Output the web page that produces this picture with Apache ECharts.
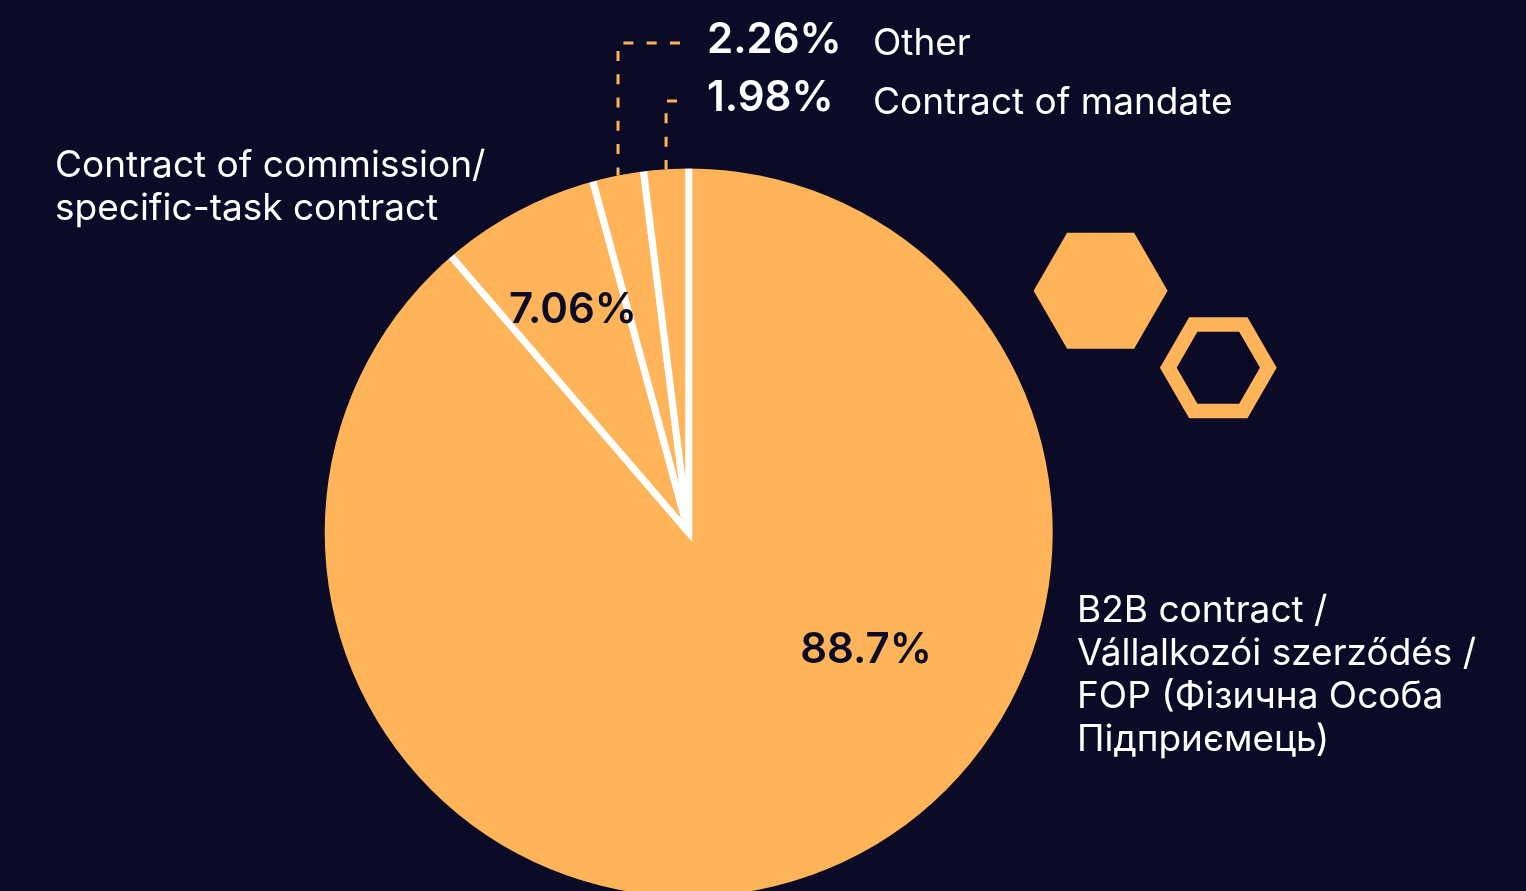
<!DOCTYPE html>
<html>
<head>
<meta charset="utf-8">
<script src="https://cdn.jsdelivr.net/npm/echarts@6/dist/echarts.min.js"></script>
<style>
html,body{margin:0;padding:0;background:#0b0b28;}
#chart{width:1526px;height:891px;}
</style>
</head>
<body>
<div id="chart"></div>
<script>
// ---- data ----
const categories = [
  'B2B contract /\nVállalkozói szerződés /\nFOP (Фізична Особа\nПідприємець)',
  'Contract of commission/\nspecific-task contract',
  'Other',
  'Contract of mandate'
];
const values = [88.7, 7.06, 2.26, 1.98];
const percentLabels = ['88.7%', '7.06%', '2.26%', '1.98%'];

// ---- style ----
const BG = '#0b0b28';
const ORANGE = '#ffb459';
const PCT_FONT = 'Inter, "Noto Sans", sans-serif';
const NAME_FONT = 'Inter, "Noto Sans", sans-serif';
const CX = 688.7, CY = 532.5, R = 364;

const chart = echarts.init(document.getElementById('chart'), null, {renderer: 'canvas'});

// label placements (layout, not data)
const pctPos = [
  {x: 866, y: 650, align: 'center', color: BG},
  {x: 573, y: 310, align: 'center', color: BG},
  {x: 707, y: 40, align: 'left', color: '#ffffff'},
  {x: 707, y: 98, align: 'left', color: '#ffffff'}
];
const namePos = [
  {x: 1077, y: 675, align: 'left'},
  {x: 55, y: 187, align: 'left'},
  {x: 873, y: 44, align: 'left'},
  {x: 873, y: 103, align: 'left'}
];
const lineEnds = [null, null, {y: 43, x: 680}, {y: 101, x: 677}];

const total = values.reduce((a, b) => a + b, 0);
function edgePoint(i) {
  let cum = 0;
  for (let k = 0; k < i; k++) cum += values[k];
  const a = (cum + values[i] / 2) / total * 2 * Math.PI;
  return [CX + R * Math.sin(a), CY - R * Math.cos(a)];
}

const graphics = [];
values.forEach((v, i) => {
  if (!lineEnds[i]) return;
  const p = edgePoint(i);
  graphics.push({
    type: 'polyline', silent: true, z: 20,
    shape: {points: [[lineEnds[i].x, lineEnds[i].y], [p[0], lineEnds[i].y], [p[0], p[1]]]},
    style: {stroke: ORANGE, lineWidth: 3, lineDash: [10, 13.3], fill: null}
  });
});
function hexPoints(cx, cy, r) {
  const pts = [];
  for (let k = 0; k < 6; k++) {
    const a = k * Math.PI / 3;
    pts.push([cx + r * Math.cos(a), cy + r * Math.sin(a)]);
  }
  return pts;
}
graphics.push({
  type: 'polygon', silent: true, z: 20,
  shape: {points: hexPoints(1100.6, 290.7, 67)},
  style: {fill: ORANGE}
});
graphics.push({
  type: 'polygon', silent: true, z: 20,
  shape: {points: hexPoints(1218.3, 367.7, 50)},
  style: {fill: null, stroke: ORANGE, lineWidth: 14.5, lineJoin: 'miter'}
});

const option = {
  backgroundColor: BG,
  animation: false,
  graphic: graphics,
  series: [
    {
      type: 'pie',
      z: 2,
      center: [CX, CY],
      radius: [0, R + 5],
      startAngle: 90,
      clockwise: true,
      avoidLabelOverlap: false,
      silent: true,
      itemStyle: {color: ORANGE, borderColor: '#ffffff', borderWidth: 7, borderJoin: 'miter', borderMiterLimit: 3},
      label: {
        show: true,
        position: 'inside',
        fontFamily: PCT_FONT,
        fontWeight: 600,
        fontSize: 42,
        formatter: p => percentLabels[p.dataIndex]
      },
      labelLine: {show: false},
      labelLayout: p => ({x: pctPos[p.dataIndex].x, y: pctPos[p.dataIndex].y, align: pctPos[p.dataIndex].align, verticalAlign: 'middle'}),
      emphasis: {disabled: true},
      data: values.map((v, i) => ({value: v, name: categories[i], label: {color: pctPos[i].color}}))
    },
    {
      type: 'pie',
      z: 3,
      center: [CX, CY],
      radius: [R, R + 12],
      silent: true,
      label: {show: false},
      labelLine: {show: false},
      itemStyle: {color: BG, borderWidth: 0},
      emphasis: {disabled: true},
      data: [{value: 1, name: 'cover'}]
    },
    {
      type: 'pie',
      z: 4,
      center: [CX, CY],
      radius: [0, R],
      startAngle: 90,
      clockwise: true,
      silent: true,
      avoidLabelOverlap: false,
      itemStyle: {color: 'rgba(0,0,0,0)', borderWidth: 0},
      label: {
        show: true,
        position: 'outside',
        color: '#ffffff',
        fontFamily: NAME_FONT,
        fontSize: 37,
        lineHeight: 43,
        formatter: p => categories[p.dataIndex]
      },
      labelLine: {show: false},
      labelLayout: p => ({x: namePos[p.dataIndex].x, y: namePos[p.dataIndex].y, align: namePos[p.dataIndex].align, verticalAlign: 'middle'}),
      emphasis: {disabled: true},
      data: values.map((v, i) => ({value: v, name: categories[i]}))
    }
  ]
};
chart.setOption(option);
</script>
</body>
</html>
